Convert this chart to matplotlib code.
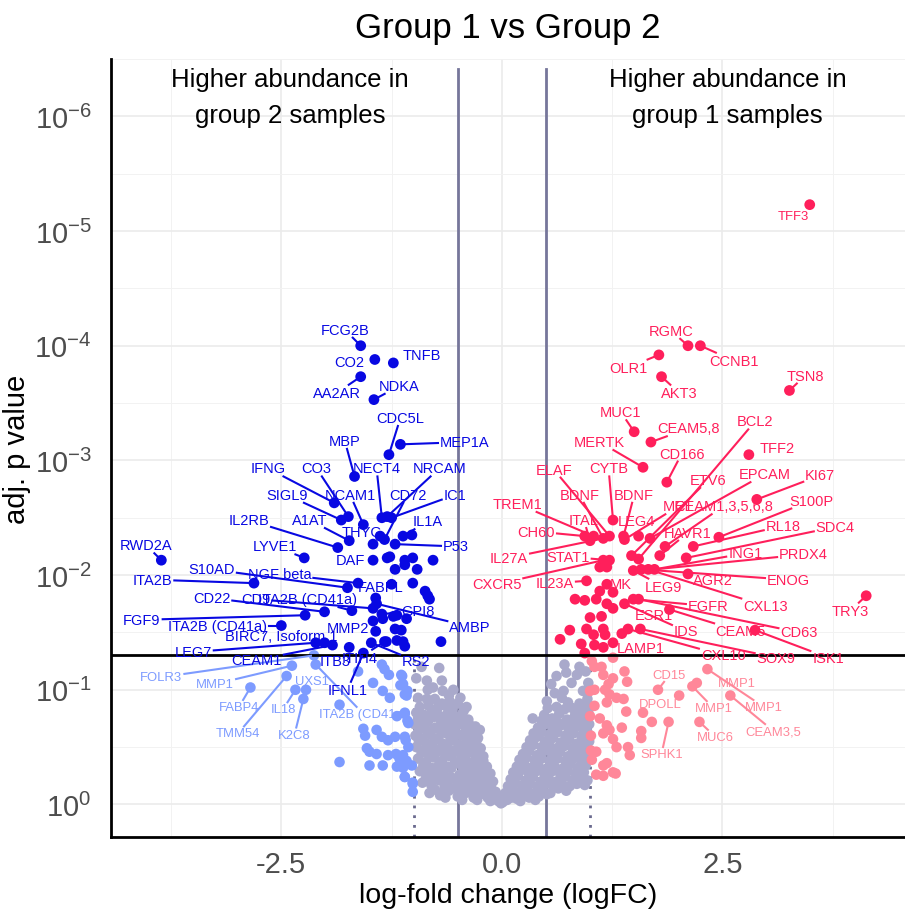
import math
import matplotlib.pyplot as plt

plt.rcParams['font.family'] = ['Liberation Sans', 'DejaVu Sans']
plt.rcParams['mathtext.fontset'] = 'custom'
plt.rcParams['mathtext.rm'] = 'Liberation Sans'
plt.rcParams['mathtext.default'] = 'rm'

# values: (logFC, -log10 adj. p)
grey_pts = [
    (-0.91, 1.20), (-0.71, 1.19), (-0.85, 1.08), (-0.68, 1.08), (-0.84, 1.00), (-0.67, 0.99),
    (-0.55, 1.00), (-0.95, 0.93), (-0.85, 0.92), (-0.76, 0.92), (-0.68, 0.88), (-0.59, 0.90),
    (-0.40, 0.85), (-0.25, 0.65), (-0.97, 1.10), (-0.78, 1.02), (-0.60, 0.95), (-0.47, 0.93),
    (-0.97, 0.80), (-0.88, 0.78), (-0.79, 0.82), (-0.70, 0.77), (-0.61, 0.80), (-0.52, 0.76),
    (-0.45, 0.79), (-0.38, 0.74), (-0.99, 0.70), (-0.92, 0.68), (-0.84, 0.72), (-0.75, 0.67),
    (-0.66, 0.71), (-0.57, 0.66), (-0.49, 0.70), (-0.41, 0.66), (-0.33, 0.63), (-0.98, 0.60),
    (-0.90, 0.57), (-0.81, 0.61), (-0.72, 0.58), (-0.63, 0.62), (-0.55, 0.56), (-0.46, 0.60),
    (-0.37, 0.57), (-0.29, 0.55), (-0.97, 0.50), (-0.89, 0.47), (-0.80, 0.51), (-0.71, 0.48),
    (-0.62, 0.52), (-0.53, 0.46), (-0.44, 0.50), (-0.35, 0.47), (-0.27, 0.45), (-0.21, 0.42),
    (-0.95, 0.40), (-0.86, 0.37), (-0.77, 0.41), (-0.68, 0.38), (-0.59, 0.42), (-0.50, 0.36),
    (-0.42, 0.40), (-0.33, 0.37), (-0.25, 0.35), (-0.17, 0.33), (-0.93, 0.29), (-0.84, 0.27),
    (-0.75, 0.31), (-0.66, 0.28), (-0.57, 0.32), (-0.48, 0.26), (-0.40, 0.30), (-0.31, 0.27),
    (-0.23, 0.25), (-0.15, 0.24), (-0.10, 0.20), (-0.90, 0.19), (-0.80, 0.17), (-0.71, 0.21),
    (-0.62, 0.18), (-0.53, 0.22), (-0.45, 0.16), (-0.37, 0.20), (-0.28, 0.17), (-0.20, 0.15),
    (-0.12, 0.14), (-0.07, 0.11), (-0.82, 0.10), (-0.70, 0.08), (-0.60, 0.12), (-0.50, 0.07),
    (-0.41, 0.10), (-0.32, 0.06), (-0.24, 0.09), (-0.16, 0.06), (-0.09, 0.05), (-0.04, 0.03),
    (-0.01, 0.01),
    (-0.93, 0.85), (-0.83, 0.86), (-0.73, 0.84), (-0.64, 0.86), (-0.56, 0.83), (-0.50, 0.88),
    (-0.43, 0.82), (-0.95, 0.75), (-0.86, 0.74), (-0.78, 0.76), (-0.69, 0.73), (-0.60, 0.75),
    (-0.52, 0.72), (-0.44, 0.73), (-0.36, 0.69), (-0.30, 0.68), (-0.94, 0.65), (-0.85, 0.64),
    (-0.77, 0.66), (-0.68, 0.63), (-0.59, 0.67), (-0.51, 0.62), (-0.42, 0.61), (-0.34, 0.59),
    (-0.27, 0.58), (-0.94, 0.55), (-0.85, 0.53), (-0.76, 0.56), (-0.67, 0.53), (-0.58, 0.57),
    (-0.49, 0.52), (-0.40, 0.54), (-0.32, 0.51), (-0.24, 0.49), (-0.91, 0.45), (-0.82, 0.43),
    (-0.73, 0.46), (-0.64, 0.44), (-0.55, 0.47), (-0.46, 0.43), (-0.38, 0.45), (-0.29, 0.41),
    (-0.21, 0.38), (-0.19, 0.30), (-0.89, 0.34), (-0.80, 0.32), (-0.71, 0.35), (-0.62, 0.33),
    (-0.53, 0.37), (-0.44, 0.32), (-0.36, 0.34), (-0.27, 0.31), (-0.13, 0.27), (-0.86, 0.23),
    (-0.76, 0.24), (-0.67, 0.25), (-0.58, 0.24), (-0.49, 0.21), (-0.41, 0.24), (-0.33, 0.22),
    (-0.24, 0.20), (-0.16, 0.19), (-0.05, 0.08), (-0.76, 0.13), (-0.65, 0.15), (-0.55, 0.14),
    (-0.46, 0.12), (-0.37, 0.14), (-0.28, 0.11), (-0.20, 0.11), (-0.12, 0.09), (-0.64, 0.06),
    (-0.45, 0.04), (-0.28, 0.04), (-0.13, 0.03),
    (0.71, 1.22), (0.88, 1.20), (0.73, 1.15), (0.62, 1.12), (0.85, 1.13), (0.56, 1.05),
    (0.79, 1.06), (0.98, 1.06), (0.70, 0.99), (0.92, 0.99), (0.51, 0.90), (0.68, 0.93),
    (0.75, 0.89), (0.88, 0.88), (0.96, 0.85), (0.35, 0.75), (0.95, 1.16), (0.60, 0.97),
    (0.48, 0.78), (0.57, 0.75), (0.65, 0.79), (0.74, 0.74), (0.83, 0.78), (0.92, 0.75),
    (0.98, 0.80), (0.41, 0.67), (0.49, 0.70), (0.58, 0.66), (0.67, 0.69), (0.76, 0.65),
    (0.85, 0.68), (0.94, 0.64), (0.99, 0.70), (0.32, 0.56), (0.40, 0.59), (0.49, 0.55),
    (0.58, 0.58), (0.67, 0.54), (0.76, 0.57), (0.85, 0.53), (0.93, 0.58), (0.99, 0.55),
    (0.24, 0.44), (0.31, 0.47), (0.40, 0.43), (0.49, 0.47), (0.57, 0.44), (0.66, 0.46),
    (0.75, 0.42), (0.84, 0.45), (0.93, 0.43), (0.98, 0.47), (0.17, 0.33), (0.25, 0.36),
    (0.33, 0.32), (0.41, 0.35), (0.50, 0.31), (0.59, 0.34), (0.68, 0.31), (0.77, 0.35),
    (0.86, 0.32), (0.95, 0.34), (0.10, 0.22), (0.18, 0.25), (0.27, 0.21), (0.35, 0.24),
    (0.44, 0.20), (0.53, 0.23), (0.62, 0.20), (0.71, 0.24), (0.80, 0.21), (0.89, 0.23),
    (0.97, 0.21), (0.04, 0.10), (0.12, 0.14), (0.20, 0.11), (0.28, 0.14), (0.37, 0.10),
    (0.46, 0.13), (0.55, 0.10), (0.64, 0.14), (0.73, 0.12), (0.01, 0.02), (0.06, 0.04),
    (0.11, 0.06), (0.17, 0.05), (0.24, 0.07), (0.31, 0.06),
    (0.52, 0.84), (0.62, 0.85), (0.71, 0.83), (0.80, 0.84), (0.90, 0.82), (0.97, 0.92),
    (0.45, 0.73), (0.53, 0.73), (0.62, 0.72), (0.71, 0.71), (0.80, 0.72), (0.89, 0.71),
    (0.96, 0.74), (0.36, 0.62), (0.45, 0.63), (0.54, 0.61), (0.63, 0.63), (0.72, 0.60),
    (0.81, 0.62), (0.90, 0.60), (0.97, 0.63), (0.28, 0.50), (0.36, 0.52), (0.45, 0.50),
    (0.54, 0.51), (0.62, 0.49), (0.71, 0.51), (0.80, 0.49), (0.89, 0.50), (0.96, 0.51),
    (0.20, 0.39), (0.28, 0.41), (0.37, 0.39), (0.45, 0.40), (0.54, 0.38), (0.63, 0.40),
    (0.72, 0.38), (0.81, 0.40), (0.90, 0.38), (0.98, 0.40), (0.13, 0.28), (0.22, 0.30),
    (0.30, 0.28), (0.39, 0.29), (0.48, 0.27), (0.57, 0.29), (0.66, 0.27), (0.75, 0.29),
    (0.84, 0.27), (0.93, 0.28), (0.07, 0.16), (0.15, 0.19), (0.24, 0.17), (0.32, 0.18),
    (0.41, 0.16), (0.50, 0.18), (0.59, 0.16), (0.68, 0.18), (0.77, 0.16), (0.85, 0.18),
    (0.94, 0.17), (0.08, 0.09), (0.16, 0.08), (0.25, 0.10), (0.33, 0.09), (0.42, 0.07),
    (0.51, 0.09), (0.03, 0.05), (0.21, 0.03), (0.38, 0.04),
]

blue_pts = [
    (-1.60, 4.00), (-1.44, 3.88), (-1.23, 3.85), (-1.60, 3.73), (-1.45, 3.53), (-1.28, 3.05),
    (-1.15, 3.14), (-1.67, 2.86), (-1.90, 2.63), (-1.82, 2.48), (-1.74, 2.51), (-1.57, 2.44),
    (-1.36, 2.50), (-1.30, 2.51), (-1.25, 2.50), (-1.38, 2.34), (-1.33, 2.31), (-1.46, 2.27),
    (-1.21, 2.27), (-1.12, 2.34), (-1.02, 2.35), (-1.86, 2.24), (-1.73, 2.30), (-3.86, 2.13),
    (-2.24, 2.15), (-1.46, 2.13), (-1.30, 2.15), (-1.27, 2.16), (-1.10, 2.13), (-1.01, 2.15),
    (-0.78, 2.13), (-1.21, 2.05), (-1.10, 2.09), (-0.96, 2.05), (-2.81, 1.93), (-1.75, 1.89),
    (-1.63, 1.93), (-1.25, 1.92), (-1.01, 1.93), (-0.87, 1.86), (-0.84, 1.82), (-0.82, 1.79),
    (-2.01, 1.68), (-1.70, 1.69), (-2.23, 1.65), (-2.50, 1.56), (-1.43, 1.80), (-1.46, 1.71),
    (-1.42, 1.75), (-1.35, 1.62), (-1.23, 1.64), (-1.19, 1.65), (-1.08, 1.62), (-1.46, 1.60),
    (-1.43, 1.51), (-1.21, 1.53), (-1.14, 1.52), (-1.31, 1.42), (-1.19, 1.43), (-1.12, 1.42),
    (-1.10, 1.38), (-0.69, 1.42), (-2.11, 1.41), (-2.01, 1.41), (-1.92, 1.39), (-1.73, 1.37),
    (-1.48, 1.41), (-1.33, 1.42), (-1.57, 1.32), (-1.36, 1.66),
]

lightblue_pts = [
    (-2.13, 1.30), (-2.38, 1.21), (-2.11, 1.22), (-2.44, 1.12), (-2.85, 1.02), (-2.34, 1.00),
    (-2.22, 1.00), (-2.25, 0.92), (-1.84, 0.87), (-1.63, 1.16), (-1.46, 1.06), (-1.35, 0.99),
    (-1.27, 0.93), (-1.36, 1.22), (-1.33, 1.18), (-1.28, 1.13), (-1.13, 1.12), (-1.15, 1.04),
    (-1.10, 0.96), (-1.07, 0.99), (-1.19, 0.77), (-1.10, 0.80), (-1.07, 0.73), (-1.57, 0.66),
    (-1.55, 0.60), (-1.42, 0.65), (-1.36, 0.59), (-1.29, 0.56), (-1.21, 0.59), (-1.10, 0.59),
    (-1.53, 0.49), (-1.50, 0.46), (-1.42, 0.44), (-1.29, 0.43), (-1.20, 0.44), (-1.16, 0.40),
    (-1.12, 0.43), (-1.84, 0.37), (-1.50, 0.34), (-1.35, 0.34), (-1.19, 0.33), (-1.12, 0.32),
    (-1.02, 0.34), (-1.10, 0.24), (-1.01, 0.19), (-1.14, 1.13), (-1.12, 1.05), (-1.08, 0.95),
    (-1.10, 0.79), (-1.06, 0.71), (-1.09, 0.56), (-1.06, 0.50), (-1.08, 0.38), (-1.10, 0.24),
    (-1.01, 0.18), (-1.01, 0.11),
]

red_pts = [
    (3.49, 5.23), (2.11, 4.00), (2.25, 4.00), (1.78, 3.92), (1.81, 3.73), (3.26, 3.61),
    (1.50, 3.25), (1.69, 3.16), (1.60, 2.94), (2.80, 3.05), (1.87, 2.81), (2.89, 2.66),
    (1.26, 2.48), (1.38, 2.34), (1.04, 2.34), (1.15, 2.32), (1.22, 2.34), (1.55, 2.34),
    (1.68, 2.32), (1.47, 2.17), (1.55, 2.14), (1.85, 2.25), (1.79, 2.17), (2.17, 2.25),
    (2.09, 2.15), (2.46, 2.33), (2.11, 2.01), (1.66, 2.05), (1.58, 2.05), (1.73, 2.05),
    (1.49, 2.04), (0.96, 1.95), (1.19, 1.92), (1.26, 1.85), (1.11, 1.86), (1.15, 2.13),
    (1.22, 2.13), (1.19, 2.07), (1.11, 2.07), (0.94, 2.34), (1.00, 2.30), (1.39, 2.31),
    (0.83, 1.79), (0.94, 1.78), (1.07, 1.79), (1.19, 1.75), (1.26, 1.71), (1.39, 1.75),
    (1.49, 1.79), (1.55, 1.79), (1.90, 1.70), (2.87, 1.52), (1.00, 1.63), (1.13, 1.64),
    (0.77, 1.52), (0.96, 1.53), (1.04, 1.48), (1.15, 1.53), (1.17, 1.48), (1.36, 1.49),
    (1.43, 1.53), (1.57, 1.53), (0.66, 1.44), (0.90, 1.40), (1.05, 1.39), (1.15, 1.37),
    (1.26, 1.41), (0.94, 1.32), (4.13, 1.82),
]

pink_pts = [
    (1.26, 1.28), (1.77, 1.00), (2.01, 0.95), (2.33, 1.18), (2.16, 1.03), (2.21, 1.06),
    (2.59, 0.95), (2.24, 0.72), (1.89, 0.72), (1.05, 1.20), (1.13, 1.20), (1.15, 1.13),
    (1.26, 1.10), (1.39, 1.16), (1.42, 1.07), (1.05, 1.00), (1.17, 1.00), (1.22, 0.96),
    (1.30, 0.93), (1.38, 0.92), (1.21, 1.05), (1.05, 0.86), (1.19, 0.89), (1.41, 0.81),
    (1.60, 0.80), (1.70, 0.72), (1.00, 0.77), (1.11, 0.75), (1.19, 0.69), (1.22, 0.65),
    (1.36, 0.67), (1.58, 0.64), (1.58, 0.58), (1.01, 0.60), (1.15, 0.62), (1.26, 0.57),
    (1.30, 0.50), (1.43, 0.50), (1.45, 0.43), (1.01, 0.47), (1.07, 0.46), (1.15, 0.34),
    (1.19, 0.36), (1.07, 0.26), (1.15, 0.25), (1.26, 0.28), (1.29, 0.27), (1.02, 1.25),
    (1.00, 0.99), (1.02, 0.39),
]

# gene labels: name, index of the point, where the label sits (logFC, -log10 p)
blue_names = ['FCG2B', 'CO2', 'TNFB', 'AA2AR', 'NDKA', 'CDC5L', 'MEP1A', 'MBP', 'IFNG', 'CO3',
              'NECT4', 'NRCAM', 'SIGL9', 'NCAM1', 'CD72', 'IC1', 'IL2RB', 'A1AT', 'THYG', 'IL1A',
              'P53', 'RWD2A', 'LYVE1', 'DAF', 'S10AD', 'ITA2B', 'NGF beta', 'FABPL', 'CD22', 'CD9',
              'ITA2B (CD41a)', 'GPI8', 'FGF9', 'ITA2B (CD41a)', 'MMP2', 'AMBP', 'BIRC7, Isoform 1',
              'LEG7', 'CEAM1', 'ITB3', 'ITIH4', 'RS2', 'IFNL1']
blue_idx = [0, 1, 2, 3, 4, 5, 6, 7, 8, 10, 12, 13, 9, 11, 16, 14, 21, 22, 17, 19,
            18, 23, 24, 25, 35, 34, 36, 37, 42, 47, 43, 69, 44, 45, 54, 48, 63,
            62, 64, 65, 67, 66, 68]
blue_pos = [(-1.78, 4.14), (-1.73, 3.86), (-0.91, 3.92), (-1.87, 3.59), (-1.16, 3.65),
            (-1.15, 3.37), (-0.42, 3.16), (-1.78, 3.17), (-2.65, 2.93), (-2.10, 2.93),
            (-1.42, 2.93), (-0.71, 2.93), (-2.44, 2.70), (-1.72, 2.70), (-1.07, 2.70),
            (-0.53, 2.70), (-2.87, 2.48), (-2.18, 2.48), (-1.59, 2.38), (-0.84, 2.47),
            (-0.52, 2.25), (-4.03, 2.26), (-2.57, 2.25), (-1.72, 2.13), (-3.29, 2.05),
            (-3.96, 1.96), (-2.52, 2.01), (-1.38, 1.90), (-3.29, 1.80), (-2.79, 1.79),
            (-2.20, 1.79), (-0.95, 1.69), (-4.08, 1.61), (-3.22, 1.56), (-1.75, 1.54),
            (-0.36, 1.55), (-2.50, 1.47), (-3.50, 1.33), (-2.78, 1.26), (-1.89, 1.25),
            (-1.61, 1.28), (-0.97, 1.25), (-1.75, 1.00)]

lightblue_names = ['FOLR3', 'MMP1', 'ITA2B (CD41a)', 'TMM54', 'FABP4', 'IL18', 'UXS1', 'K2C8']
lightblue_idx = [0, 1, 2, 3, 4, 5, 6, 7]
lightblue_pos = [(-3.86, 1.11), (-3.25, 1.05), (-1.57, 0.79), (-2.99, 0.62), (-2.98, 0.85),
                 (-2.48, 0.83), (-2.15, 1.08), (-2.35, 0.61)]

red_names = ['TFF3', 'RGMC', 'CCNB1', 'OLR1', 'AKT3', 'TSN8', 'MUC1', 'CEAM5,8', 'MERTK', 'BCL2',
             'TFF2', 'CD166', 'ELAF', 'CYTB', 'ETV6', 'EPCAM', 'KI67', 'BDNF', 'BDNF', 'TREM1',
             'S100P', 'MET', 'CEAM1,3,5,6,8', 'ITAL', 'LEG4', 'RL18', 'SDC4', 'CH60', 'HAVR1',
             'ING1', 'PRDX4', 'IL27A', 'STAT1', 'AGR2', 'ENOG', 'CXCR5', 'IL23A', 'MK', 'LEG9',
             'EGFR', 'CXL13', 'TRY3', 'ESR1', 'IDS', 'CEAM5', 'CD63', 'LAMP1', 'CXL10', 'SOX9',
             'ISK1']
red_idx = [0, 1, 2, 3, 4, 5, 6, 7, 8, 20, 9, 10, 16, 12, 19, 18, 11, 15, 13, 14,
           25, 41, 21, 40, 17, 23, 24, 39, 22, 29, 29, 15, 36, 26, 28, 35, 31, 33, 30,
           48, 27, 68, 50, 47, 50, 49, 66, 60, 61, 51]
red_pos = [(3.30, 5.13), (1.92, 4.13), (2.63, 3.87), (1.43, 3.81), (2.01, 3.59), (3.44, 3.74),
           (1.35, 3.42), (2.12, 3.28), (1.11, 3.16), (2.87, 3.34), (3.12, 3.11), (2.04, 3.06),
           (0.59, 2.92), (1.21, 2.93), (2.34, 2.83), (2.98, 2.88), (3.61, 2.87), (0.88, 2.70),
           (1.50, 2.70), (0.18, 2.62), (3.51, 2.65), (2.00, 2.60), (2.51, 2.60), (0.93, 2.48),
           (1.53, 2.47), (3.19, 2.43), (3.78, 2.42), (0.39, 2.38), (2.11, 2.37), (2.76, 2.19),
           (3.42, 2.18), (0.08, 2.15), (0.75, 2.16), (2.39, 1.96), (3.25, 1.96), (-0.06, 1.92),
           (0.60, 1.93), (1.35, 1.92), (1.83, 1.90), (2.34, 1.73), (2.99, 1.73), (3.95, 1.69),
           (1.72, 1.65), (2.09, 1.51), (2.70, 1.51), (3.37, 1.50), (1.58, 1.36), (2.51, 1.30),
           (3.11, 1.28), (3.70, 1.28)]

pink_names = ['CD15', 'DPOLL', 'MMP1', 'MMP1', 'MMP1', 'CEAM3,5', 'MUC6', 'SPHK1']
pink_idx = [1, 2, 4, 6, 3, 6, 7, 8]
pink_pos = [(1.90, 1.13), (1.80, 0.88), (2.40, 0.84), (2.66, 1.06), (2.97, 0.85), (3.08, 0.64),
            (2.42, 0.59), (1.81, 0.44)]

c_grey = '#A9A9CB'
c_blue = '#0808E2'
c_lblue = '#7D9BFF'
c_red = '#FF1F5B'
c_pink = '#FF8799'

fig = plt.figure(figsize=(9.05, 9.12), dpi=100)
ax = fig.add_axes([0.1227, 0.0811, 0.8773, 0.8531])
ax.set_yscale('log')
ax.set_xlim(-4.43, 4.57)
ax.set_ylim(10 ** 0.284, 10 ** -6.41)
ax.set_autoscale_on(False)

ax.set_xticks([-2.5, 0, 2.5])
ax.set_xticklabels(['-2.5', '0.0', '2.5'])
ax.set_xticks([-3.75, -1.25, 1.25, 3.75], minor=True)
ax.set_yticks([10.0 ** -k for k in range(7)])
ax.set_yticklabels([r'$10^{0}$'] + [r'$10^{-%d}$' % k for k in range(1, 7)])
ax.set_yticks([10.0 ** -(k + 0.5) for k in range(7)], minor=True)
ax.yaxis.set_minor_formatter(plt.NullFormatter())
ax.grid(which='major', color='#EBEBEB', lw=1.2, zorder=0)
ax.grid(which='minor', color='#F2F2F2', lw=0.7, zorder=0)
ax.set_axisbelow(True)
ax.tick_params(which='both', length=0, labelsize=21, labelcolor='#4D4D4D')
ax.tick_params(axis='x', pad=9)
ax.tick_params(axis='y', pad=14)
for s in ['top', 'right']:
    ax.spines[s].set_visible(False)
for s in ['left', 'bottom']:
    ax.spines[s].set_linewidth(2)
    ax.spines[s].set_color('black')

ylo = 10 ** 0.284
for v in [-0.5, 0.5]:
    ax.plot([v, v], [ylo, 10 ** -6.41], color='#76769A', lw=2, zorder=1)
for v in [-1, 1]:
    ax.plot([v, v], [ylo, 0.05], color='#6A6A8E', lw=2, ls=(0, (1, 2.5)), zorder=1)


def draw(pts, color, size):
    ax.scatter([p[0] for p in pts], [10 ** -p[1] for p in pts], s=size, color=color,
               edgecolors='none', zorder=2)


draw(grey_pts, c_grey, 58)
draw(lightblue_pts, c_lblue, 58)
draw(pink_pts, c_pink, 58)
draw(blue_pts, c_blue, 60)
draw(red_pts, c_red, 60)

ax.axhline(0.05, color='black', lw=2, zorder=4)

pending = []


def labels(names, idx, pos, pts, color, size):
    for name, i, (tx, tn) in zip(names, idx, pos):
        t = ax.text(tx, 10 ** -tn, name, color=color, fontsize=size, ha='center', va='center',
                    zorder=6)
        pending.append((t, pts[i], color))


labels(blue_names, blue_idx, blue_pos, blue_pts, c_blue, 10.5)
labels(lightblue_names, lightblue_idx, lightblue_pos, lightblue_pts, c_lblue, 9.4)
labels(red_names[1:], red_idx[1:], red_pos[1:], red_pts, c_red, 10.5)
labels(red_names[:1], red_idx[:1], red_pos[:1], red_pts, c_red, 9.4)
labels(pink_names, pink_idx, pink_pos, pink_pts, c_pink, 9.4)

fig.canvas.draw()
rend = fig.canvas.get_renderer()
inv = ax.transData.inverted()
for t, (px, pn), color in pending:
    bb = t.get_window_extent(rend)
    X, Y = ax.transData.transform((px, 10 ** -pn))
    cx, cy = (bb.x0 + bb.x1) / 2, (bb.y0 + bb.y1) / 2
    vx, vy = X - cx, Y - cy
    hw, hh = bb.width / 2 + 2, bb.height / 2 + 1
    k = min(hw / abs(vx) if vx else math.inf, hh / abs(vy) if vy else math.inf)
    if k >= 1:
        continue
    sx, sy = cx + vx * k, cy + vy * k
    L = math.hypot(X - sx, Y - sy)
    if L < 9:
        continue
    ex, ey = X - (X - sx) / L * 3, Y - (Y - sy) / L * 3
    seg = inv.transform([(sx, sy), (ex, ey)])
    ax.plot(seg[:, 0], seg[:, 1], color=color, lw=1.5, zorder=5)

ax.text(-2.40, 10 ** -6.17, 'Higher abundance in\ngroup 2 samples', ha='center', va='center',
        fontsize=18.5, linespacing=1.6, zorder=6)
ax.text(2.56, 10 ** -6.17, 'Higher abundance in\ngroup 1 samples', ha='center', va='center',
        fontsize=18.5, linespacing=1.6, zorder=6)

ax.set_title('Group 1 vs Group 2', fontsize=25, pad=16)
ax.set_xlabel('log-fold change (logFC)', fontsize=20.5, labelpad=3)
ax.set_ylabel('adj. p value', fontsize=21, labelpad=2)

fig.savefig('out.png', dpi=100)
